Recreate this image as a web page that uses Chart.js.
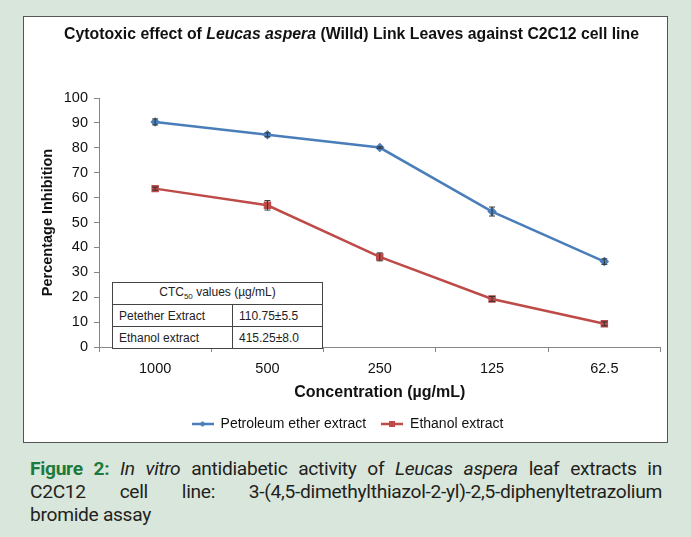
<!DOCTYPE html>
<html>
<head>
<meta charset="utf-8">
<script src="https://cdn.jsdelivr.net/npm/chart.js@4.4.1/dist/chart.umd.min.js"></script>
<style>
  body { margin: 0; background: #d9e6dc; width: 691px; height: 537px; overflow: hidden; position: relative; }
  #box { position: absolute; left: 23px; top: 16px; width: 643px; height: 425px; border: 1px solid #555; background: #fff; }
  #box canvas { position: absolute; left: 0; top: 0; }
  #title { position: absolute; left: 6px; width: 100%; top: 8px; text-align: center; font: bold 15.8px "Liberation Sans", Arial, sans-serif; color: #111; }
  #ctc { position: absolute; left: 88px; top: 265px; width: 211px; border-collapse: collapse; background: #fff;
         font: 12px "Liberation Sans", Arial, sans-serif; color: #222; }
  #ctc td { border: 1px solid #444; height: 21px; padding: 0 6px; white-space: nowrap; }
  #ctc td.h { text-align: center; }
  #cap { position: absolute; left: 30px; top: 457px; width: 632px; font: 19.2px Roboto, "Open Sans", sans-serif; color: #231f20; line-height: 23px; letter-spacing: -0.3px; }
  #cap span.l { display: block; text-align: justify; text-align-last: justify; white-space: nowrap; }
  #cap span.last { display: block; text-align: left; }
  #cap b { color: #1d7a3c; }
</style>
</head>
<body>
<div id="box">
  <canvas id="chart" width="643" height="425"></canvas>
  <div id="title">Cytotoxic effect of <i>Leucas aspera</i> (Willd) Link Leaves against C2C12 cell line</div>
  <table id="ctc">
    <tr><td class="h" colspan="2">CTC<sub style="font-size:8px">50</sub> values (µg/mL)</td></tr>
    <tr><td style="width:107px">Petether Extract</td><td>110.75±5.5</td></tr>
    <tr><td>Ethanol extract</td><td>415.25±8.0</td></tr>
  </table>
</div>
<div id="cap">
  <span class="l"><b>Figure 2:</b> <i>In vitro</i> antidiabetic activity of <i>Leucas aspera</i> leaf extracts in</span>
  <span class="l">C2C12 cell line: 3-(4,5-dimethylthiazol-2-yl)-2,5-diphenyltetrazolium</span>
  <span class="last">bromide assay</span>
</div>
<script>
const concentrations = ["1000", "500", "250", "125", "62.5"];
const petEther = [90.4, 85.2, 80.1, 54.4, 34.3];
const petEtherErr = [1.2, 0.8, 0.3, 1.8, 1.1];
const ethanol = [63.6, 56.9, 36.2, 19.3, 9.3];
const ethanolErr = [0.6, 1.9, 1.6, 1.0, 0.8];
const yTicks = [0, 10, 20, 30, 40, 50, 60, 70, 80, 90, 100];

const BLUE = "#4a7ebb";
const RED = "#be4b48";

function legendIcon(color, style) {
  const c = document.createElement("canvas");
  c.width = 22; c.height = 8;
  const g = c.getContext("2d");
  g.strokeStyle = color; g.lineWidth = 2.5;
  g.beginPath(); g.moveTo(0, 4); g.lineTo(22, 4); g.stroke();
  g.fillStyle = color;
  if (style === "rect") g.fillRect(8, 1, 6, 6);
  else { g.beginPath(); g.moveTo(11, 1); g.lineTo(14, 4); g.lineTo(11, 7); g.lineTo(8, 4); g.closePath(); g.fill(); }
  return c;
}

// error bars drawn from the y scale
const errorBars = {
  id: "errorBars",
  afterDatasetsDraw(chart) {
    const ctx = chart.ctx;
    const y = chart.scales.y;
    chart.data.datasets.forEach((ds, i) => {
      const meta = chart.getDatasetMeta(i);
      meta.data.forEach((pt, j) => {
        const top = y.getPixelForValue(ds.data[j] + ds.errors[j]);
        const bot = y.getPixelForValue(ds.data[j] - ds.errors[j]);
        ctx.save();
        ctx.strokeStyle = "#333";
        ctx.lineWidth = 1;
        ctx.beginPath();
        ctx.moveTo(pt.x, top); ctx.lineTo(pt.x, bot);
        ctx.moveTo(pt.x - 3, top); ctx.lineTo(pt.x + 3, top);
        ctx.moveTo(pt.x - 3, bot); ctx.lineTo(pt.x + 3, bot);
        ctx.stroke();
        ctx.restore();
      });
    });
  }
};

new Chart(document.getElementById("chart"), {
  type: "line",
  data: {
    labels: concentrations,
    datasets: [
      { label: "Petroleum ether extract", data: petEther, errors: petEtherErr, borderColor: BLUE, backgroundColor: BLUE,
        borderWidth: 2.5, pointStyle: "rectRot", pointRadius: 3, icon: legendIcon(BLUE, "rectRot") },
      { label: "Ethanol extract", data: ethanol, errors: ethanolErr, borderColor: RED, backgroundColor: RED,
        borderWidth: 2.5, pointStyle: "rect", pointRadius: 3.5, icon: legendIcon(RED, "rect") }
    ]
  },
  options: {
    responsive: false,
    animation: false,
    layout: { padding: { top: 81, right: 6, bottom: 1, left: 10 } },
    plugins: {
      legend: {
        position: "bottom",
        labels: {
          usePointStyle: true,
          pointStyleWidth: 22,
          padding: 15,
          color: "#111",
          font: { family: "Liberation Sans, Arial", size: 14 },
          generateLabels(chart) {
            return chart.data.datasets.map((ds, i) => ({
              text: ds.label, pointStyle: ds.icon, fillStyle: ds.borderColor,
              strokeStyle: ds.borderColor, lineWidth: 0, datasetIndex: i, hidden: false, fontColor: "#111"
            }));
          }
        }
      },
      tooltip: { enabled: false }
    },
    scales: {
      x: {
        offset: true,
        afterFit(s) { s.height = 55; },
        grid: { offset: true, drawOnChartArea: false, tickLength: 5, color: "#868686" },
        border: { color: "#868686" },
        ticks: { color: "#111", padding: 8, font: { family: "Liberation Sans, Arial", size: 14.5 } },
        title: { display: true, text: "Concentration (µg/mL)", color: "#111", padding: { bottom: 0 },
                 font: { family: "Liberation Sans, Arial", size: 16, weight: "bold" } }
      },
      y: {
        min: 0, max: 100,
        afterFit(s) { s.width = 65; },
        afterBuildTicks(s) { s.ticks = yTicks.map(v => ({ value: v })); },
        grid: { drawOnChartArea: false, tickLength: 5, color: "#868686" },
        border: { color: "#868686" },
        ticks: { color: "#111", padding: 6, font: { family: "Liberation Sans, Arial", size: 14.5 } },
        title: { display: true, text: "Percentage Inhibition", color: "#111", padding: { top: 5 },
                 font: { family: "Liberation Sans, Arial", size: 14.5, weight: "bold" } }
      }
    }
  },
  plugins: [errorBars]
});
</script>
</body>
</html>
